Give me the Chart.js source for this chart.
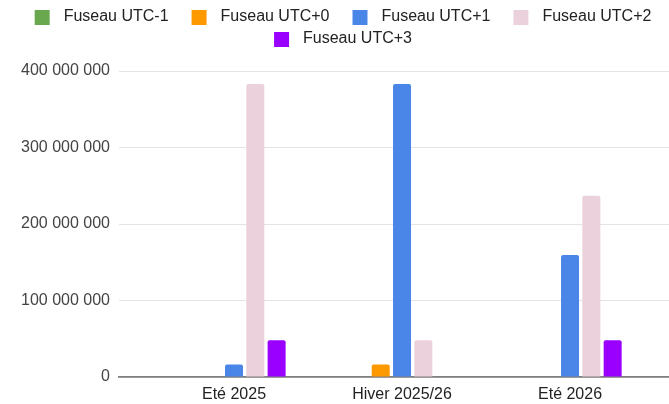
<!DOCTYPE html>
<html>
<head>
<meta charset="utf-8">
<script src="https://cdn.jsdelivr.net/npm/chart.js@4"></script>
<style>
  body { margin: 0; background: #fff; }
  #wrap { width: 669px; height: 404px; }
</style>
</head>
<body>
<div id="wrap"><canvas id="chart" width="669" height="404"></canvas></div>
<script>
// donnees
const categories = ["Eté 2025", "Hiver 2025/26", "Eté 2026"];
const seriesNames = ["Fuseau UTC-1", "Fuseau UTC+0", "Fuseau UTC+1", "Fuseau UTC+2", "Fuseau UTC+3"];
const utcMoins1 = [null, null, null];
const utc0 = [null, 16500000, null];
const utc1 = [16500000, 383000000, 159500000];
const utc2 = [383000000, 48000000, 237000000];
const utc3 = [48000000, null, 48000000];
const seriesColors = ["#6aa84f", "#ff9900", "#4a86e8", "#ead1dc", "#9900ff"];

const allSeries = [utcMoins1, utc0, utc1, utc2, utc3];
const FONT = "'Liberation Sans', Arial, sans-serif";

// petits carres de legende avec un espace avant et apres
function legendIcon(color) {
  const c = document.createElement("canvas");
  c.width = 38;
  c.height = 15;
  const g = c.getContext("2d");
  g.fillStyle = color;
  g.fillRect(17, 0, 15, 15);
  return c;
}
const legendIcons = seriesColors.map(legendIcon);

function formatNombre(v) {
  return String(v).replace(/\B(?=(\d{3})+(?!\d))/g, " ");
}

const legendSpace = {
  id: "legendSpace",
  beforeInit(chart) {
    const fit = chart.legend.fit;
    chart.legend.fit = function () {
      fit.bind(chart.legend)();
      this.height = 68;
    };
  },
};

const datasets = seriesNames.map((name, i) => ({
  label: name,
  data: allSeries[i].map((v, j) => ({ x: j, y: v })),
  backgroundColor: seriesColors[i],
  borderWidth: 0,
  borderRadius: 2,
  categoryPercentage: 0.634,
  barPercentage: 0.845,
}));

new Chart(document.getElementById("chart"), {
  type: "bar",
  data: { datasets: datasets },
  plugins: [legendSpace],
  options: {
    responsive: false,
    animation: false,
    devicePixelRatio: 1,
    layout: { padding: { top: 3, left: 0, right: 0, bottom: 0 } },
    plugins: {
      tooltip: { enabled: false },
      legend: {
        position: "top",
        labels: {
          usePointStyle: true,
          pointStyleWidth: 38,
          boxHeight: 15,
          padding: 6,
          color: "#222",
          font: { family: FONT, size: 16 },
          generateLabels(chart) {
            const items = Chart.defaults.plugins.legend.labels.generateLabels(chart);
            items.forEach((it) => (it.pointStyle = legendIcons[it.datasetIndex]));
            return items;
          },
        },
      },
    },
    scales: {
      x: {
        type: "linear",
        bounds: "data",
        offset: false,
        min: -0.6845,
        max: 2.589,
        afterBuildTicks(scale) {
          scale.ticks = categories.map((c, i) => ({ value: i }));
        },
        afterFit(scale) {
          scale.height = 27;
        },
        grid: { display: false, drawTicks: false, offset: false },
        border: { display: true, color: "#808080", width: 1.8 },
        ticks: {
          autoSkip: false,
          maxRotation: 0,
          padding: 8,
          color: "#222",
          font: { family: FONT, size: 16 },
          callback: (v) => categories[Math.round(v)],
        },
      },
      y: {
        min: 0,
        max: 400000000,
        afterFit(scale) {
          scale.width = 119;
        },
        grid: { color: "#e4e4e4", lineWidth: 1, drawTicks: false },
        border: { display: false },
        ticks: {
          stepSize: 100000000,
          padding: 9,
          color: "#444",
          font: { family: FONT, size: 16 },
          callback: (v) => formatNombre(v),
        },
      },
    },
  },
});
</script>
</body>
</html>
